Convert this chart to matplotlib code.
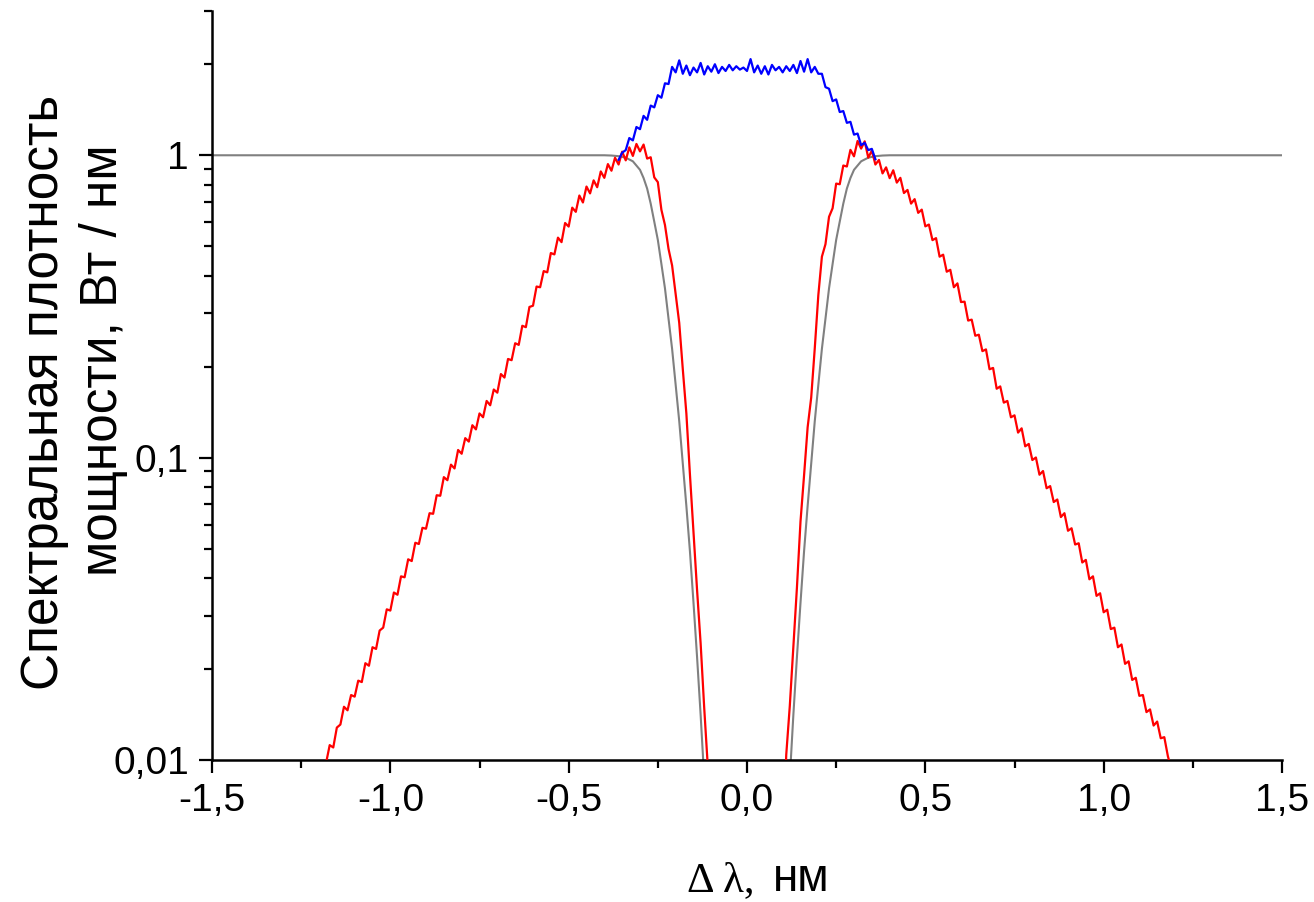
import matplotlib
matplotlib.use("Agg")
import matplotlib.pyplot as plt
from matplotlib.ticker import LogLocator, NullFormatter

# ---------------- data ----------------
red_left_x = [-1.18, -1.17, -1.16, -1.15, -1.14, -1.13, -1.12, -1.11, -1.10, -1.09,
              -1.08, -1.07, -1.06, -1.05, -1.04, -1.03, -1.02, -1.01, -1.00, -0.99,
              -0.98, -0.97, -0.96, -0.95, -0.94, -0.93, -0.92, -0.91, -0.90, -0.89,
              -0.88, -0.87, -0.86, -0.85, -0.84, -0.83, -0.82, -0.81, -0.80, -0.79,
              -0.78, -0.77, -0.76, -0.75, -0.74, -0.73, -0.72, -0.71, -0.70, -0.69,
              -0.68, -0.67, -0.66, -0.65, -0.64, -0.63, -0.62, -0.61, -0.60, -0.59,
              -0.58, -0.57, -0.56, -0.55, -0.54, -0.53, -0.52, -0.51, -0.50, -0.49,
              -0.48, -0.47, -0.46, -0.45, -0.44, -0.43, -0.42, -0.41, -0.40, -0.39,
              -0.38, -0.37, -0.36, -0.35, -0.34, -0.33, -0.32, -0.31, -0.30, -0.29,
              -0.28, -0.27, -0.26, -0.25, -0.24, -0.23, -0.22, -0.21, -0.20, -0.19,
              -0.18, -0.17, -0.16, -0.15, -0.14, -0.13, -0.12, -0.11, -0.105]
red_left_y = [0.0098, 0.0112, 0.0110, 0.0128, 0.0131, 0.0150, 0.0146, 0.0164, 0.0162, 0.0183,
              0.0181, 0.0209, 0.0205, 0.0236, 0.0233, 0.0268, 0.0274, 0.0315, 0.0312, 0.0358,
              0.0352, 0.0405, 0.0402, 0.0461, 0.0455, 0.0523, 0.0518, 0.0586, 0.0582, 0.0655,
              0.0652, 0.0751, 0.0748, 0.0862, 0.0842, 0.0948, 0.0921, 0.106, 0.103, 0.116,
              0.113, 0.128, 0.124, 0.140, 0.136, 0.154, 0.149, 0.168, 0.164, 0.189,
              0.184, 0.212, 0.210, 0.239, 0.236, 0.273, 0.270, 0.315, 0.318, 0.368,
              0.366, 0.414, 0.410, 0.475, 0.470, 0.534, 0.516, 0.597, 0.581, 0.671,
              0.650, 0.736, 0.698, 0.788, 0.748, 0.826, 0.784, 0.884, 0.842, 0.935,
              0.889, 0.981, 0.932, 1.028, 0.962, 1.062, 0.995, 1.090, 1.030, 1.085,
              0.975, 0.985, 0.845, 0.815, 0.660, 0.588, 0.490, 0.432, 0.348, 0.279,
              0.196, 0.140, 0.0880, 0.0570, 0.0365, 0.0243, 0.0149, 0.00955, 0.00708]

red_right_x = [0.105, 0.11, 0.12, 0.13, 0.14, 0.15, 0.16, 0.17, 0.18, 0.19,
               0.20, 0.21, 0.22, 0.23, 0.24, 0.25, 0.26, 0.27, 0.28, 0.29,
               0.30, 0.31, 0.32, 0.33, 0.34, 0.35, 0.36, 0.37, 0.38, 0.39,
               0.40, 0.41, 0.42, 0.43, 0.44, 0.45, 0.46, 0.47, 0.48, 0.49,
               0.50, 0.51, 0.52, 0.53, 0.54, 0.55, 0.56, 0.57, 0.58, 0.59,
               0.60, 0.61, 0.62, 0.63, 0.64, 0.65, 0.66, 0.67, 0.68, 0.69,
               0.70, 0.71, 0.72, 0.73, 0.74, 0.75, 0.76, 0.77, 0.78, 0.79,
               0.80, 0.81, 0.82, 0.83, 0.84, 0.85, 0.86, 0.87, 0.88, 0.89,
               0.90, 0.91, 0.92, 0.93, 0.94, 0.95, 0.96, 0.97, 0.98, 0.99,
               1.00, 1.01, 1.02, 1.03, 1.04, 1.05, 1.06, 1.07, 1.08, 1.09,
               1.10, 1.11, 1.12, 1.13, 1.14, 1.15, 1.16, 1.17, 1.18, 1.185]
red_right_y = [0.00708, 0.0104, 0.0151, 0.0236, 0.0372, 0.0615, 0.0874, 0.126, 0.158, 0.230,
               0.345, 0.462, 0.508, 0.626, 0.668, 0.806, 0.802, 0.925, 0.918, 1.042,
               0.992, 1.115, 1.052, 1.112, 0.982, 1.036, 0.932, 0.965, 0.871, 0.912,
               0.840, 0.892, 0.812, 0.842, 0.750, 0.768, 0.692, 0.716, 0.645, 0.661,
               0.582, 0.590, 0.524, 0.532, 0.462, 0.469, 0.412, 0.418, 0.366, 0.377,
               0.327, 0.328, 0.284, 0.286, 0.253, 0.255, 0.225, 0.228, 0.196, 0.198,
               0.169, 0.172, 0.152, 0.154, 0.136, 0.138, 0.121, 0.125, 0.109, 0.111,
               0.0982, 0.1001, 0.0878, 0.0903, 0.0792, 0.0805, 0.0713, 0.0727, 0.0636, 0.0655,
               0.0573, 0.0584, 0.0516, 0.0521, 0.0450, 0.0459, 0.0396, 0.0405, 0.0349, 0.0356,
               0.0308, 0.0314, 0.0271, 0.0274, 0.0236, 0.0241, 0.0208, 0.0212, 0.0184, 0.0187,
               0.0163, 0.0164, 0.0144, 0.0147, 0.0130, 0.0134, 0.0118, 0.0119, 0.0103, 0.0098]

blue_x = [-0.36, -0.35, -0.34, -0.33, -0.32, -0.31, -0.30, -0.29, -0.28, -0.27,
          -0.26, -0.25, -0.24, -0.23, -0.22, -0.21, -0.20, -0.19, -0.18, -0.17,
          -0.16, -0.15, -0.14, -0.13, -0.12, -0.11, -0.10, -0.09, -0.08, -0.07,
          -0.06, -0.05, -0.04, -0.03, -0.02, -0.01, 0.00, 0.01, 0.02, 0.03,
          0.04, 0.05, 0.06, 0.07, 0.08, 0.09, 0.10, 0.11, 0.12, 0.13,
          0.14, 0.15, 0.16, 0.17, 0.18, 0.19, 0.20, 0.21, 0.22, 0.23,
          0.24, 0.25, 0.26, 0.27, 0.28, 0.29, 0.30, 0.31, 0.32, 0.33,
          0.34, 0.35, 0.36]
blue_y = [0.966, 1.02, 1.04, 1.14, 1.12, 1.24, 1.22, 1.35, 1.31, 1.46,
          1.44, 1.58, 1.55, 1.73, 1.72, 1.96, 1.88, 2.06, 1.86, 1.98,
          1.84, 1.95, 1.88, 2.02, 1.85, 1.97, 1.89, 2.00, 1.87, 1.96,
          1.90, 1.99, 1.91, 1.97, 1.92, 1.95, 1.90, 2.08, 1.88, 1.98,
          1.86, 1.97, 1.85, 1.99, 1.91, 1.96, 1.88, 1.97, 1.90, 1.99,
          1.87, 2.05, 1.89, 2.08, 1.88, 1.96, 1.86, 1.86, 1.68, 1.66,
          1.51, 1.53, 1.39, 1.40, 1.28, 1.29, 1.17, 1.18, 1.08, 1.10,
          1.04, 1.05, 0.97]

gray_x = [-1.5, -0.40, -0.38, -0.36, -0.34, -0.32, -0.30, -0.29, -0.28, -0.27,
          -0.26, -0.25, -0.24, -0.23, -0.22, -0.21, -0.20, -0.19, -0.18, -0.17,
          -0.16, -0.15, -0.14, -0.13, -0.12, -0.11,
          0.11, 0.12, 0.13, 0.14, 0.15, 0.16, 0.17, 0.18, 0.19, 0.20,
          0.21, 0.22, 0.23, 0.24, 0.25, 0.26, 0.27, 0.28, 0.29, 0.30,
          0.32, 0.34, 0.36, 0.38, 0.40, 1.5]
gray_y = [1.0, 1.0, 0.998, 0.993, 0.982, 0.955, 0.895, 0.841, 0.776, 0.692,
          0.603, 0.525, 0.437, 0.363, 0.288, 0.229, 0.174, 0.132, 0.0955, 0.0692,
          0.0490, 0.0331, 0.0219, 0.0141, 0.00871, 0.00501,
          0.00501, 0.00871, 0.0141, 0.0219, 0.0331, 0.0490, 0.0692, 0.0955, 0.132, 0.174,
          0.229, 0.288, 0.363, 0.437, 0.525, 0.603, 0.692, 0.776, 0.841, 0.895,
          0.955, 0.982, 0.993, 0.998, 1.0, 1.0]

x_ticks = [-1.5, -1.0, -0.5, 0.0, 0.5, 1.0, 1.5]
x_tick_labels = ["-1,5", "-1,0", "-0,5", "0,0", "0,5", "1,0", "1,5"]
x_minor_ticks = [-1.25, -0.75, -0.25, 0.25, 0.75, 1.25]
y_ticks = [0.01, 0.1, 1]
y_tick_labels = ["0,01", "0,1", "1"]

y_label_line1 = "Спектральная плотность"
y_label_line2 = "мощности, Вт / нм"
x_label_greek = "Δ λ,"
x_label_unit = "нм"

# ---------------- figure ----------------
W, H = 1314, 902
fig = plt.figure(figsize=(W / 100, H / 100), dpi=100)
fig.patch.set_facecolor("white")
ax = fig.add_axes([212 / W, (H - 760) / H, (1282 - 212) / W, (760 - 11) / H])

ax.plot(gray_x, gray_y, color="#808080", lw=1.5, zorder=2)
ax.plot(red_left_x + red_right_x, red_left_y + red_right_y, color="#ff0000", lw=1.6, zorder=3)
ax.plot(blue_x, blue_y, color="#0000ff", lw=1.6, zorder=4)

ax.set_yscale("log")
ax.set_xlim(-1.5, 1.5)
ax.set_ylim(0.01, 3)

ax.set_xticks(x_ticks)
ax.set_xticklabels(x_tick_labels)
ax.set_xticks(x_minor_ticks, minor=True)
ax.set_yticks(y_ticks)
ax.set_yticklabels(y_tick_labels)
ax.yaxis.set_minor_locator(LogLocator(base=10, subs=[2, 3, 4, 5, 6, 7, 8, 9]))
ax.yaxis.set_minor_formatter(NullFormatter())

for s in ["top", "right"]:
    ax.spines[s].set_visible(False)
for s in ["left", "bottom"]:
    ax.spines[s].set_linewidth(1.8)
    ax.spines[s].set_color("black")

ax.tick_params(which="major", direction="out", length=9.5, width=1.6,
               labelsize=28, pad=7, colors="black")
ax.tick_params(which="minor", direction="out", length=5.5, width=1.6, colors="black")
for lab in ax.get_xticklabels() + ax.get_yticklabels():
    lab.set_family("Liberation Sans")

fig.text(45 / W, 1 - 392 / H, y_label_line1, rotation=90, ha="center", va="center",
         fontsize=37, family="Liberation Sans")
fig.text(104 / W, 1 - 360 / H, y_label_line2, rotation=90, ha="center", va="center",
         fontsize=37, family="Liberation Sans")

base_y = (H - 891) / H
fig.text(687 / W, base_y, x_label_greek, ha="left", va="baseline",
         fontsize=31, family="Liberation Serif")
fig.text(773 / W, base_y, x_label_unit, ha="left", va="baseline",
         fontsize=33, family="Liberation Sans")

fig.savefig("out.png", dpi=100, facecolor="white")
